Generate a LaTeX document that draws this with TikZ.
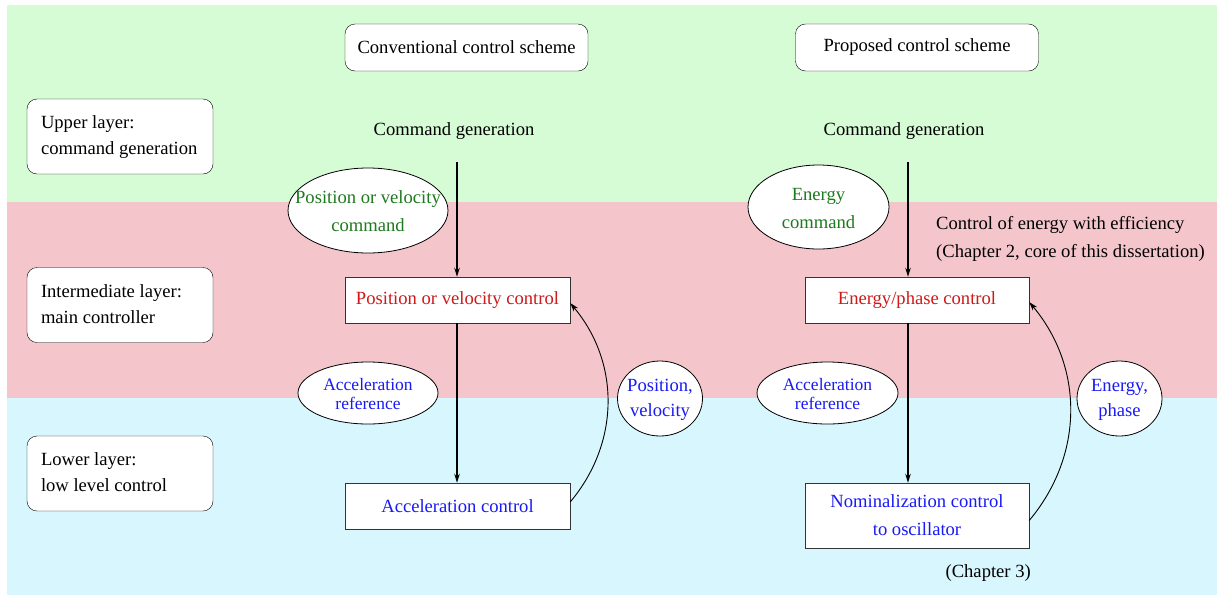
\documentclass[tikz,border=0pt]{standalone}
\usepackage{fontspec}
\setmainfont{Liberation Serif}
\usetikzlibrary{shapes.geometric,arrows.meta}
\definecolor{bggreen}{HTML}{D6FCD6}
\definecolor{bgpink}{HTML}{F4C6CC}
\definecolor{bgblue}{HTML}{D8F6FD}
\definecolor{tgreen}{HTML}{1E7A1E}
\definecolor{tred}{HTML}{CC1A1A}
\definecolor{tblue}{HTML}{1A1AF5}
\definecolor{edge}{HTML}{333333}
\newcommand{\leftlines}[1]{\makebox[158pt][l]{\begin{tabular}{@{}l@{}}#1\end{tabular}}}
\tikzset{
  base/.style={font=\fontsize{18.6}{28}\selectfont, inner sep=0pt},
  layerbox/.style={base, draw=black, rounded corners=10pt, fill=white,
    minimum width=186pt, minimum height=75pt, inner xsep=14pt,
    font=\fontsize{18.6}{26}\selectfont},
  titlebox/.style={base, draw=black, rounded corners=10pt, fill=white,
    minimum width=243pt, minimum height=47pt},
  ctrlbox/.style={base, draw=edge, fill=white, minimum width=225pt, align=center},
  ovalline/.style={draw=black, fill=white, line width=0.8pt},
  ovaltext/.style={base, align=center},
  arr/.style={line width=1.6pt, -{Stealth[length=9pt,width=5.5pt]}},
  fb/.style={line width=0.9pt, -{Stealth[length=9pt,width=5.5pt]}},
}
\begin{document}
\begin{tikzpicture}[x=1pt,y=-1pt]
\useasboundingbox (0,0) rectangle (1222,595);
% bands
\fill[bggreen] (7,5) rectangle (1217,202);
\fill[bgpink] (7,202) rectangle (1217,398);
\fill[bgblue] (7,398) rectangle (1217,595);
% layer labels
\node[layerbox] (L1) at (120,136.5) {\leftlines{Upper layer:\\command generation}};
\node[layerbox] (L2) at (120,305) {\leftlines{Intermediate layer:\\main controller}};
\node[layerbox] (L3) at (120,473.5) {\leftlines{Lower layer:\\low level control}};
% titles
\node[titlebox] (T1) at (466.5,47.5) {Conventional control scheme};
\node[titlebox] (T2) at (917,47.5) {Proposed control scheme};
% command generation
\node[base] (CG1) at (454,131.5) {Command generation};
\node[base] (CG2) at (904,131.5) {Command generation};
\coordinate (top1) at (457,162);
\coordinate (top2) at (908,162);
% control boxes
\node[ctrlbox, minimum height=46pt, text=tred] (PV) at (457.5,300) {Position or velocity control};
\node[ctrlbox, minimum width=224pt, minimum height=46pt, text=tred] (EP) at (917,300) {Energy/phase control};
\node[ctrlbox, minimum height=46pt, text=tblue] (AC) at (457.5,506) {Acceleration control};
\node[ctrlbox, minimum width=224pt, minimum height=65pt, text=tblue] (NC) at (917,515.5) {Nominalization control\\to oscillator};
% arrows
\draw[arr] (top1) -- (PV.north -| top1);
\draw[arr] (PV.south -| top1) -- (AC.north -| top1);
\draw[arr] (top2) -- (EP.north -| top2);
\draw[arr] (EP.south -| top2) -- (NC.north -| top2);
\draw[fb] ([yshift=4pt]AC.east) to[bend right=40] ([yshift=-3pt]PV.east);
\draw[fb] ([yshift=-5pt]NC.east) to[bend right=40] ([yshift=-2pt]EP.east);
% ellipses
\coordinate (c1) at (368,210.5);
\coordinate (c2) at (818.5,207);
\coordinate (c3) at (368,393);
\coordinate (c4) at (827.5,393);
\coordinate (c5) at (660,398.5);
\coordinate (c6) at (1119.5,398.5);
\draw[ovalline] (c1) ellipse [x radius=80, y radius=42.5];
\draw[ovalline] (c2) ellipse [x radius=70.5, y radius=42];
\draw[ovalline] (c3) ellipse [x radius=70, y radius=31];
\draw[ovalline] (c4) ellipse [x radius=70.5, y radius=31];
\draw[ovalline] (c5) ellipse [x radius=42.5, y radius=37.5];
\draw[ovalline] (c6) ellipse [x radius=42.5, y radius=37.5];
\node[ovaltext, text=tgreen] (E1) at ([yshift=-1pt]c1) {Position or velocity\\command};
\node[ovaltext, text=tgreen] (E2) at ([yshift=-1pt]c2) {Energy\\command};
\node[ovaltext, text=tblue, font=\fontsize{17.5}{19}\selectfont] (E3) at ([yshift=-1pt]c3) {Acceleration\\reference};
\node[ovaltext, text=tblue, font=\fontsize{17.5}{19}\selectfont] (E4) at ([yshift=-1pt]c4) {Acceleration\\reference};
\node[ovaltext, text=tblue, font=\fontsize{18.6}{25}\selectfont] (E5) at ([yshift=-1pt]c5) {Position,\\velocity};
\node[ovaltext, text=tblue, font=\fontsize{18.6}{25}\selectfont] (E6) at ([yshift=-1pt]c6) {Energy,\\phase};
% notes
\node[base, anchor=west, align=left] (N1) at (936,239) {Control of energy with efficiency\\(Chapter 2, core of this dissertation)};
\node[base, anchor=east] (N2) at (1031,573) {(Chapter 3)};
\end{tikzpicture}
\end{document}
